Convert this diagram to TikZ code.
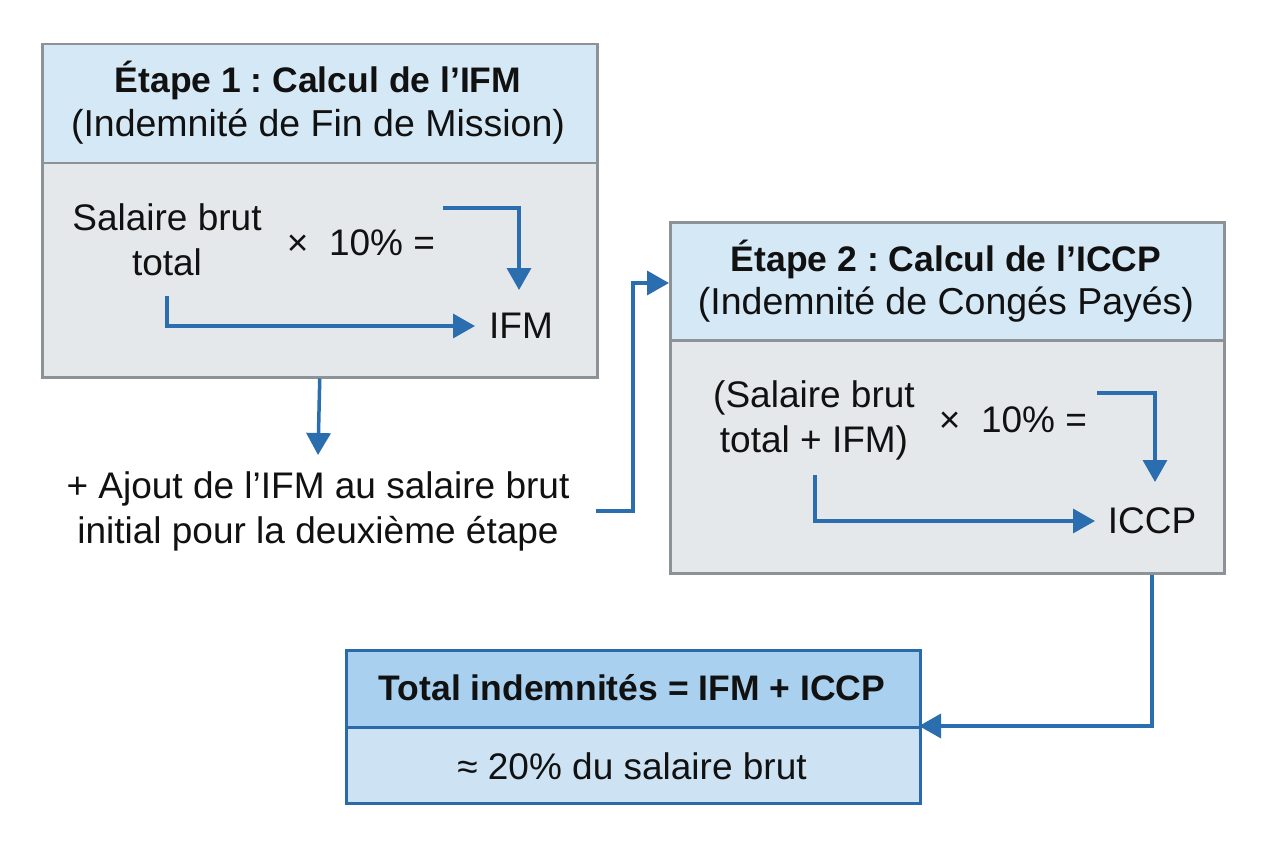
\documentclass[tikz,border=0pt]{standalone}
\usepackage{fontspec}
\setmainfont{Liberation Sans}
\usetikzlibrary{arrows.meta}
\frenchspacing
\definecolor{hdrblue}{HTML}{D5E8F5}
\definecolor{bodygray}{HTML}{E5E8EB}
\definecolor{boxgray}{HTML}{8C9296}
\definecolor{arrblue}{HTML}{2A6EB0}
\definecolor{totborder}{HTML}{2A6AA8}
\definecolor{tothdr}{HTML}{A9D1EF}
\definecolor{totbody}{HTML}{CDE3F3}
\definecolor{txt}{HTML}{111111}
\tikzset{
  panel/.style={draw=boxgray, line width=2.5pt, inner sep=0pt, anchor=north west},
  hdrpanel/.style={panel, fill=hdrblue},
  bodypanel/.style={panel, fill=bodygray},
  totpanel/.style={draw=totborder, line width=2.5pt, inner sep=0pt, anchor=north west},
  flow/.style={draw=arrblue, line width=3.5pt, -{Triangle[length=22pt,width=24pt]}},
  lbl/.style={text=txt, inner sep=0pt, align=center, font=\fontsize{37}{45}\selectfont},
  ttl/.style={text=txt, inner sep=0pt, align=center, font=\fontsize{35.5}{46}\selectfont\bfseries},
  sub/.style={text=txt, inner sep=0pt, align=center, font=\fontsize{37.5}{46}\selectfont},
}
\begin{document}
\begin{tikzpicture}[x=1pt,y=-1pt]
\fill[white] (0,0) rectangle (1264,848);
\useasboundingbox (0,0) rectangle (1264,848);

% Box 1
\node[bodypanel, minimum width=555pt, minimum height=214pt] (b1body) at (41,162) {};
\node[hdrpanel, minimum width=555pt, minimum height=119pt] (b1hdr) at (41,43) {};
\node[ttl] (b1t1) at (318,80) {Étape 1 : Calcul de l’IFM};
\node[sub] (b1t2) at (318,127) {(Indemnité de Fin de Mission)};
\node[lbl] (sal1) at (167,240) {Salaire brut\\ total};
\node[lbl] (mul1) at (361,243) {×\ \ 10\% =};
\node[lbl] (ifm) at (521,326) {IFM};
\coordinate (m1s) at (443,208);
\coordinate (m1e) at (519,290);
\coordinate (s1s) at (167,296);
\coordinate (s1e) at (475,326);
\draw[flow] (m1s) -| (m1e);
\draw[flow] (s1s) |- (s1e);

% Middle text
\node[lbl] (ajout) at (318,511) {+ Ajout de l’IFM au salaire brut\\ initial pour la deuxième étape};
\coordinate (b1down) at (318,455);
\draw[flow] (b1body.south) -- (b1down);

% Box 2
\node[bodypanel, minimum width=554pt, minimum height=233pt] (b2body) at (669,339) {};
\node[hdrpanel, minimum width=554pt, minimum height=118pt] (b2hdr) at (669,221) {};
\node[ttl] (b2t1) at (946,259) {Étape 2 : Calcul de l’ICCP};
\node[sub] (b2t2) at (946,305) {(Indemnité de Congés Payés)};
\node[lbl] (sal2) at (814,420) {(Salaire brut\\ total + IFM)};
\node[lbl] (mul2) at (1013,420) {×\ \ 10\% =};
\node[lbl] (iccp) at (1152,521) {ICCP};
\coordinate (m2s) at (1097,393);
\coordinate (m2e) at (1155,482);
\coordinate (s2s) at (815,475);
\coordinate (s2e) at (1095,521);
\draw[flow] (m2s) -| (m2e);
\draw[flow] (s2s) |- (s2e);

\coordinate (ajr) at (596,511);
\coordinate (b2in) at (669,283);
\draw[flow] (ajr) -- (633,511) |- (b2in);

% Box 3
\node[totpanel, fill=totbody, minimum width=574pt, minimum height=76pt] (b3body) at (345,726) {};
\node[totpanel, fill=tothdr, minimum width=574pt, minimum height=77pt] (b3hdr) at (345,649) {};
\node[ttl] (b3t1) at (632,688) {Total indemnités = IFM + ICCP};
\node[lbl] (b3t2) at (632,766) {≈ 20\% du salaire brut};
\coordinate (tin) at (919,726);
\draw[flow] (b2body.south -| iccp) |- (tin);
\end{tikzpicture}
\end{document}
